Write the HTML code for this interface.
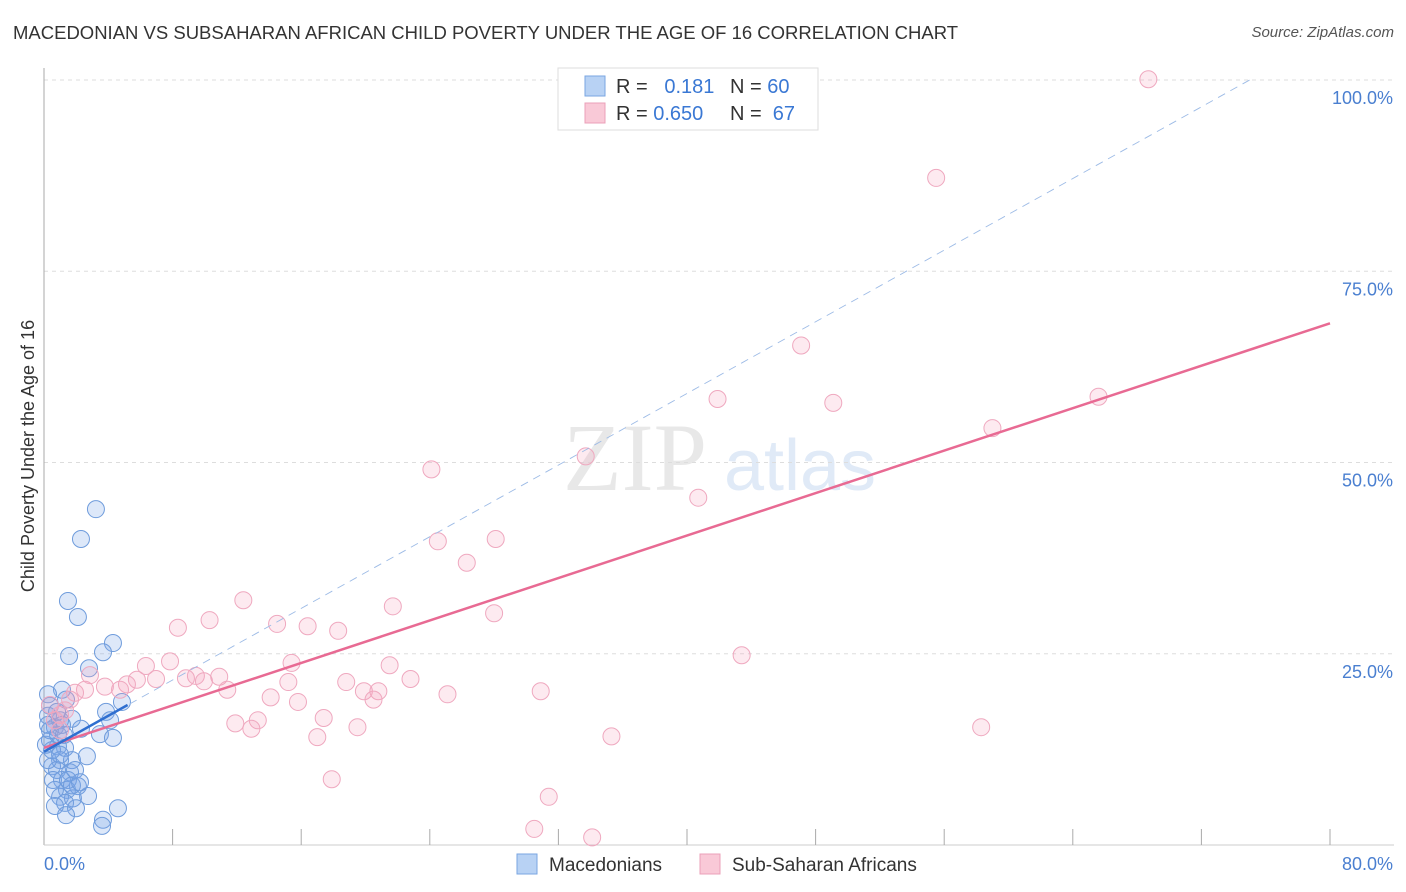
<!DOCTYPE html>
<html><head><meta charset="utf-8">
<style>
body{margin:0;background:#fff;font-family:"Liberation Sans",sans-serif;}
#wrap{position:relative;width:1406px;height:892px;overflow:hidden;}
.t{position:absolute;white-space:nowrap;}
</style></head>
<body>
<div id="wrap">
<div class="t" style="left:13px;top:22px;font-size:18.5px;color:#333;">MACEDONIAN VS SUBSAHARAN AFRICAN CHILD POVERTY UNDER THE AGE OF 16 CORRELATION CHART</div>
<div class="t" style="right:12px;top:24px;font-size:15px;color:#555;font-style:italic;">Source: ZipAtlas.com</div>
<svg id="svg" width="1406" height="892" style="position:absolute;left:0;top:0"></svg>
</div>
<script>
const xMin=0,xMax=80,yMin=0,yMax=100;
const yTicks=[25,50,75,100];
const yTickLabels=["25.0%","50.0%","75.0%","100.0%"];
const xTickCount=10;
const blueX=[3.23,2.30,1.49,2.11,4.29,3.67,1.56,2.80,1.12,0.25,4.85,3.86,4.11,2.30,3.48,4.29,1.74,1.00,0.37,0.25,0.68,0.37,0.87,1.31,1.00,1.74,0.50,2.67,0.81,1.62,1.12,2.11,1.43,1.00,2.74,1.80,1.31,0.68,1.99,4.60,1.37,3.67,3.61,0.25,0.50,0.87,0.12,0.37,1.24,0.56,1.49,1.74,0.68,1.93,1.12,0.81,1.37,0.25,1.00,2.24];
const blueY=[43.9,40.0,31.9,29.8,26.4,25.2,24.7,23.1,20.3,19.7,18.7,17.4,16.3,15.2,14.5,14.0,16.5,16.3,18.2,16.9,15.4,13.7,12.9,12.7,11.1,11.1,10.3,11.6,9.8,9.5,8.5,7.7,7.2,6.3,6.4,6.1,5.5,5.1,4.8,4.8,3.9,3.3,2.5,11.1,12.4,14.4,13.1,15.0,14.4,8.5,8.5,7.8,7.2,9.8,15.7,17.4,19.0,15.7,11.8,8.2];
const pinkX=[68.7,55.5,47.1,65.6,41.9,49.1,59.0,33.7,24.1,40.7,24.5,28.1,26.3,12.4,21.7,28.0,10.3,8.33,14.5,16.4,18.3,6.34,7.84,15.4,21.5,43.4,9.45,10.9,8.83,9.95,6.97,5.78,5.16,15.2,18.8,22.8,4.73,3.79,2.55,11.4,19.9,20.8,25.1,30.9,14.1,15.8,20.5,1.93,1.62,13.3,11.9,12.9,17.4,19.5,58.3,17.0,35.3,17.9,31.4,30.5,34.1,1.00,0.68,0.37,1.31,1.00,2.86];
const pinkY=[100.1,87.2,65.3,58.6,58.3,57.8,54.5,50.8,49.1,45.4,39.7,40.0,36.9,32.0,31.2,30.3,29.4,28.4,28.9,28.6,28.0,23.4,24.0,23.8,23.5,24.8,22.1,22.0,21.8,21.4,21.7,21.6,21.0,21.3,21.3,21.7,20.3,20.7,20.3,20.3,20.1,20.1,19.7,20.1,19.3,18.7,19.0,19.9,19.0,16.3,15.9,15.2,16.6,15.4,15.4,14.1,14.2,8.6,6.3,2.1,1.0,17.0,16.3,18.3,17.6,15.0,22.2];
const pinkTrend=[[0,12.7],[80,68.2]];
const blueTrend=[[0,12.2],[5.2,18.3]];
const blueDash=[[0,12.2],[75,100]];

const L=44,R=1330,T=80,B=845;
const sx=v=>L+(v-xMin)/(xMax-xMin)*(R-L);
const sy=v=>B-(v-yMin)/(yMax-yMin)*(B-T);
const svg=document.getElementById('svg');
const NS='http://www.w3.org/2000/svg';
function mk(tag,attrs,parent){const e=document.createElementNS(NS,tag);for(const k in attrs)e.setAttribute(k,attrs[k]);(parent||svg).appendChild(e);return e;}

let wm=mk('text',{x:635,y:490,'font-size':96,'font-family':'Liberation Serif, serif',fill:'#e8e8e8','text-anchor':'middle'});wm.textContent='ZIP';


let wm2=mk('text',{x:800,y:490,'font-size':72,'font-family':'Liberation Sans, sans-serif',fill:'#e0eaf7','text-anchor':'middle'});wm2.textContent='atlas';



yTicks.forEach((v,i)=>{
  let g=mk('line',{x1:L,x2:1394,y1:sy(v),y2:sy(v),stroke:'#dddddd','stroke-dasharray':'4,4'});
  
  
  let t=mk('text',{x:1393,y:sy(v)+24,'font-size':18,fill:'#4a7fd0','text-anchor':'end'});t.textContent=yTickLabels[i];
  
  
});
let ax=mk('line',{x1:L,x2:L,y1:68,y2:B,stroke:'#aaa'});


let bx=mk('line',{x1:L,x2:1394,y1:B,y2:B,stroke:'#ccc'});


for(let k=1;k<=xTickCount;k++){
  const v=xMin+k*(xMax-xMin)/xTickCount;
  let tk=mk('line',{x1:sx(v),x2:sx(v),y1:829,y2:B,stroke:'#aaa'});
  
  
}
let x0=mk('text',{x:44,y:870,'font-size':18,fill:'#4a7fd0'});x0.textContent='0.0%';


let x1=mk('text',{x:1393,y:870,'font-size':18,fill:'#4a7fd0','text-anchor':'end'});x1.textContent='80.0%';


let yl=mk('text',{x:0,y:0,'font-size':18,fill:'#333','text-anchor':'middle',transform:'translate(34,456) rotate(-90)'});yl.textContent='Child Poverty Under the Age of 16';



blueX.forEach((x,i)=>{
  let c=mk('circle',{cx:sx(x),cy:sy(blueY[i]),r:8.5,fill:'rgba(120,165,230,0.25)',stroke:'#6f9cdc','stroke-width':1});
  
  
});
pinkX.forEach((x,i)=>{
  let c=mk('circle',{cx:sx(x),cy:sy(pinkY[i]),r:8.5,fill:'rgba(245,160,188,0.22)',stroke:'#efa8bf','stroke-width':1});
  
  
});
let dl=mk('line',{x1:sx(blueDash[0][0]),y1:sy(blueDash[0][1]),x2:sx(blueDash[1][0]),y2:sy(blueDash[1][1]),stroke:'#9dbbe6','stroke-width':0.9,'stroke-dasharray':'8,6'});


let pl=mk('line',{x1:sx(pinkTrend[0][0]),y1:sy(pinkTrend[0][1]),x2:sx(pinkTrend[1][0]),y2:sy(pinkTrend[1][1]),stroke:'#e86a93','stroke-width':2.5});


let bl=mk('line',{x1:sx(blueTrend[0][0]),y1:sy(blueTrend[0][1]),x2:sx(blueTrend[1][0]),y2:sy(blueTrend[1][1]),stroke:'#2f6fd0','stroke-width':2.5});



let lg=mk('rect',{x:558,y:68,width:260,height:62,fill:'#fff',stroke:'#ddd'});


function legRow(y,fill,stroke,r,n,nm){
  let s=mk('rect',{x:585,y:y-10,width:20,height:20,fill:fill,stroke:stroke});
  
  
  let t=mk('text',{x:616,y:y+7,'font-size':20,fill:'#333'});
  t.innerHTML='R = <tspan fill="#3a78d4">'+r+'</tspan><tspan x="730">N = </tspan><tspan fill="#3a78d4">'+n+'</tspan>';
  
  
}
legRow(86,'#b8d2f4','#7aa6e2','&#160;&#160;0.181','60','macedonian');
legRow(113,'#f9c9d7','#eba0b8','0.650','&#160;67','subsaharan');

function bLeg(x,fill,stroke,label,nm){
  let s=mk('rect',{x:x,y:854,width:20,height:20,fill:fill,stroke:stroke});
  
  
  let t=mk('text',{x:x+32,y:871,'font-size':19,fill:'#333'});t.textContent=label;
  
  
}
bLeg(517,'#b8d2f4','#7aa6e2','Macedonians','macedonian');
bLeg(700,'#f9c9d7','#eba0b8','Sub-Saharan Africans','subsaharan');
</script>
</body></html>
